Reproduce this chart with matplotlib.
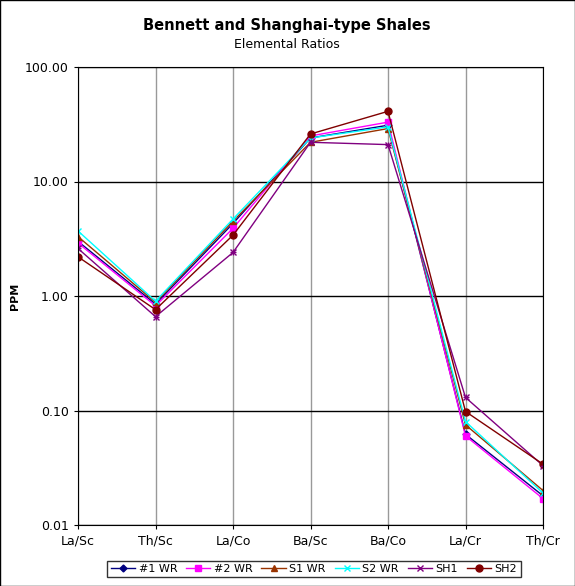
import matplotlib.pyplot as plt
from matplotlib.ticker import FixedLocator, NullLocator

ratios = ["La/Sc", "Th/Sc", "La/Co", "Ba/Sc", "Ba/Co", "La/Cr", "Th/Cr"]
wr1 = [3.0, 0.85, 4.3, 24, 31, 0.062, 0.018]
wr2 = [2.9, 0.82, 3.9, 25, 33, 0.060, 0.017]
s1 = [3.3, 0.88, 4.5, 22, 29, 0.075, 0.020]
s2 = [3.7, 0.90, 4.7, 24, 30, 0.080, 0.019]
sh1 = [2.6, 0.66, 2.4, 22, 21, 0.130, 0.033]
sh2 = [2.2, 0.76, 3.4, 26, 41, 0.098, 0.034]

series = [
    ("#1 WR", wr1, "#000080", "D", 3.5),
    ("#2 WR", wr2, "#ff00ff", "s", 4.5),
    ("S1 WR", s1, "#993300", "^", 5),
    ("S2 WR", s2, "#00ffff", "x", 5),
    ("SH1", sh1, "#800080", "x", 5),
    ("SH2", sh2, "#800000", "o", 5),
]

fig = plt.figure(figsize=(5.75, 5.86), dpi=100)
ax = fig.add_axes([78/575, 1 - 525/586, 465/575, 458/586])
x = range(len(ratios))
for name, vals, col, mk, ms in series:
    ax.plot(x, vals, color=col, marker=mk, markersize=ms, linewidth=1, label=name)
ax.plot(x, sh1, color="#800080", marker="+", markersize=5, linewidth=0)

ax.set_yscale("log")
ax.set_ylim(0.01, 100)
ax.set_xlim(0, 6)
ax.yaxis.set_major_locator(FixedLocator([0.01, 0.1, 1, 10, 100]))
ax.yaxis.set_minor_locator(NullLocator())
ax.set_yticklabels(["0.01", "0.10", "1.00", "10.00", "100.00"], fontsize=9)
ax.set_xticks(list(x))
ax.set_xticklabels(ratios, fontsize=9)
ax.grid(axis="y", color="black", linewidth=1)
ax.grid(axis="x", color="#999999", linewidth=1)
ax.set_axisbelow(True)
ax.set_ylabel("PPM", fontsize=8, fontweight="bold")
ax.tick_params(length=3)

fig.text(287/575, 1 - 30/586, "Bennett and Shanghai-type Shales", ha="center", fontsize=10.5, fontweight="bold")
fig.text(287/575, 1 - 48/586, "Elemental Ratios", ha="center", fontsize=9)
fig.legend(loc="center", bbox_to_anchor=(314/575, 1 - 569/586), ncol=6, fontsize=8,
           frameon=True, fancybox=False, edgecolor="black", handlelength=2.2,
           columnspacing=0.8, handletextpad=0.3, borderpad=0.3)
fig.patches.append(plt.Rectangle((0, 0), 1, 1, transform=fig.transFigure, fill=False,
                                 edgecolor="black", linewidth=1))
fig.savefig("out.png")
